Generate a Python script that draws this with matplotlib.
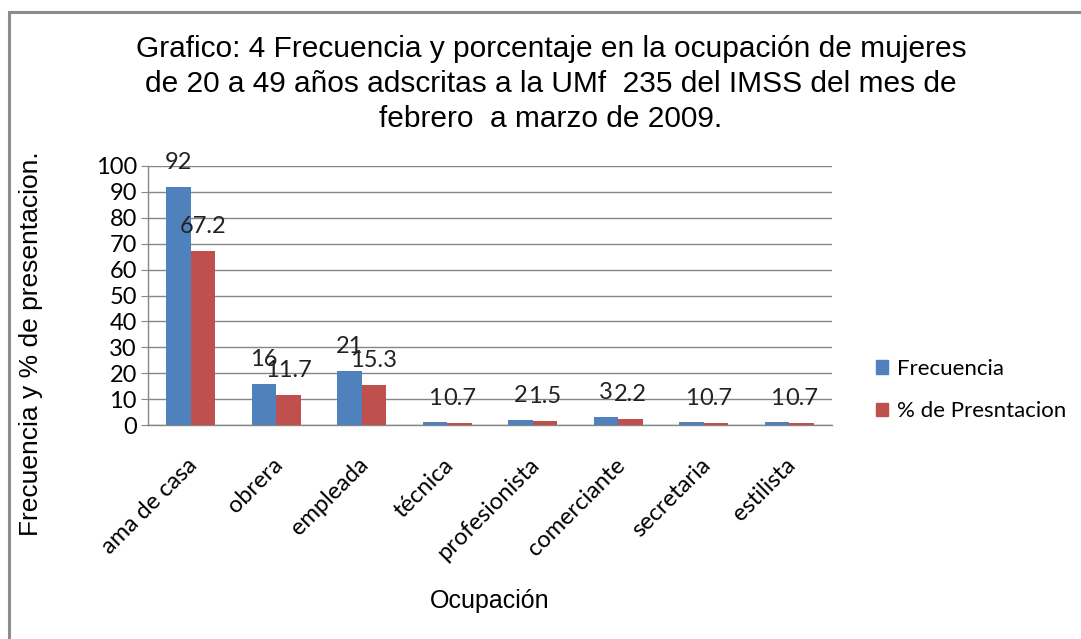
import numpy as np
import matplotlib.pyplot as plt
from matplotlib.patches import Rectangle, Patch

ocupaciones = ['ama de casa', 'obrera', 'empleada', 'técnica',
               'profesionista', 'comerciante', 'secretaria', 'estilista']
frecuencia = [92, 16, 21, 1, 2, 3, 1, 1]
porcentaje = [67.2, 11.7, 15.3, 0.7, 1.5, 2.2, 0.7, 0.7]
yticks = [0, 10, 20, 30, 40, 50, 60, 70, 80, 90, 100]

titulo = ('Grafico: 4 Frecuencia y porcentaje en la ocupación de mujeres\n'
          'de 20 a 49 años adscritas a la UMf  235 del IMSS del mes de\n'
          'febrero  a marzo de 2009.')

azul = '#4F81BD'
rojo = '#C0504D'
gris = '#868686'
calibri = ['Lato', 'DejaVu Sans']
arial = ['Liberation Sans', 'DejaVu Sans']

fig = plt.figure(figsize=(10.81, 6.39), dpi=100)
ax = fig.add_axes([148 / 1081, 1 - 425 / 639, (832 - 148) / 1081, (425 - 166) / 639])

# marco del grafico
fig.patches.append(Rectangle((9 / 1081, -0.1), 1.2, 1 - 12 / 639 + 0.1,
                             transform=fig.transFigure, fill=False,
                             edgecolor='#8c8c8c', linewidth=2.2))

x = np.arange(len(ocupaciones))
w = 1 / 3.5
b1 = ax.bar(x - w / 2, frecuencia, w, color=azul, label='Frecuencia', zorder=3)
b2 = ax.bar(x + w / 2, porcentaje, w, color=rojo, label='% de Presntacion', zorder=3)

for bars in (b1, b2):
    ax.bar_label(bars, padding=10, fontsize=17, family=calibri, color='#222222')

ax.set_xlim(-0.5, len(ocupaciones) - 0.5)
ax.set_ylim(0, 100)
ax.set_yticks(yticks)
ax.grid(axis='y', color=gris, linewidth=1, zorder=0)
ax.set_axisbelow(True)

for s in ('top', 'right'):
    ax.spines[s].set_visible(False)
for s in ('left', 'bottom'):
    ax.spines[s].set_color(gris)
    ax.spines[s].set_linewidth(1)

ax.tick_params(axis='y', length=5, color=gris, labelsize=17, pad=3)
ax.tick_params(axis='x', length=0, labelsize=17, pad=21)
for lab in ax.get_yticklabels():
    lab.set_family(calibri)
ax.set_xticks(x - 0.05)
ax.set_xticklabels(ocupaciones, rotation=45, ha='right', va='top',
                   rotation_mode='anchor', family=calibri)

fig.text(551 / 1081, 1 - 84 / 639, titulo, ha='center', va='center', fontsize=21.5,
         family=arial, linespacing=1.3)
fig.text(31 / 1081, 1 - 344 / 639, 'Frecuencia y % de presentacion.',
         rotation=90, ha='center', va='center', fontsize=19, family=arial)
fig.text(490 / 1081, 1 - 601 / 639, 'Ocupación', ha='center', va='center',
         fontsize=18, family=arial)

handles = [Patch(color=azul), Patch(color=rojo)]
fig.legend(handles, ['Frecuencia', '% de Presntacion'], loc='center left',
           bbox_to_anchor=(856 / 1081, 1 - 390 / 639), frameon=False,
           handlelength=0.55, handleheight=0.55, handletextpad=0.4,
           labelspacing=1.0, prop={'family': calibri, 'size': 16})

fig.savefig('out.png', dpi=100)
